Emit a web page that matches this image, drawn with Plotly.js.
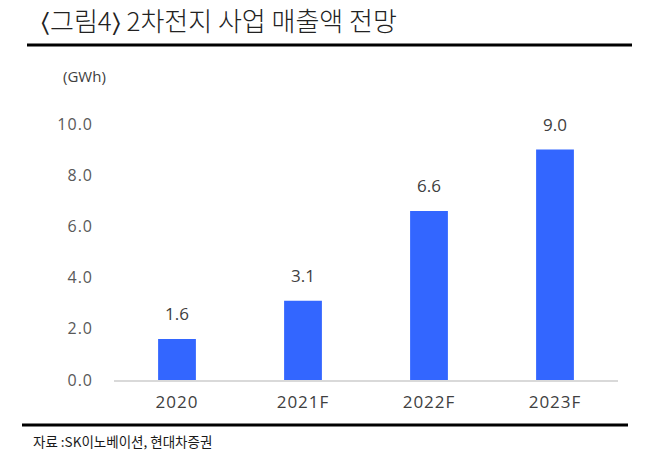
<!DOCTYPE html>
<html><head><meta charset="utf-8">
<script src="https://cdn.plot.ly/plotly-3.0.1.min.js"></script>
<style>html,body{margin:0;padding:0;background:#fff}#c{width:658px;height:467px}
.xtick text,.ytick text{letter-spacing:1px}</style>
</head><body><div id="c"></div>
<script>
const categories = ["2020", "2021F", "2022F", "2023F"];
const values = [1.6, 3.1, 6.6, 9.0];
const yTicks = [0, 2, 4, 6, 8, 10];
const yTickLabels = ["0.0", "2.0", "4.0", "6.0", "8.0", "10.0"];

const L = 114, R = 618, T = 124, B = 380;
const px = x => (x - L) / (R - L);
const py = y => (B - y) / (B - T);
const kfont = '"Noto Sans CJK KR", "Noto Sans", sans-serif';
const nfont = '"Open Sans", "Noto Sans", sans-serif';

const labelAnns = categories.map((c, i) => ({
  x: i, y: values[i], xref: 'x', yref: 'y', text: values[i].toFixed(1),
  showarrow: false, yanchor: 'bottom', yshift: 12,
  font: {size: 17, color: '#404040', family: nfont}
}));

Plotly.newPlot('c', [{
  type: 'bar', x: categories, y: values,
  marker: {color: '#3366FF'}, width: 0.3,
  hoverinfo: 'none'
}], {
  width: 658, height: 467,
  margin: {l: L, r: 658 - R, t: T, b: 467 - B},
  paper_bgcolor: '#fff', plot_bgcolor: '#fff',
  showlegend: false,
  title: {text: '<span style="font-family:DejaVu Sans">\u2329</span>그림4<span style="font-family:DejaVu Sans">\u232A</span> 2차전지 사업 매출액 전망', xref: 'container', yref: 'container',
    x: 41 / 658, xanchor: 'left', y: 1 - 22 / 467, yanchor: 'middle',
    font: {size: 26, color: '#222', family: kfont, weight: 300}},
  xaxis: {type: 'category', range: [-0.5, 3.5], showgrid: false, zeroline: false, showline: true,
    linecolor: '#d9d9d9', linewidth: 1.5, ticks: '',
    tickfont: {size: 17, color: '#404040', family: nfont}, ticklabelstandoff: 6},
  yaxis: {range: [0, 10], tickvals: yTicks, ticktext: yTickLabels, showgrid: false,
    zeroline: false, showline: false, ticks: '',
    tickfont: {size: 16, color: '#595959', family: nfont}, ticklabelstandoff: 20},
  shapes: [
    {type: 'line', xref: 'paper', yref: 'paper', x0: px(27), x1: px(632), y0: py(45), y1: py(45), line: {color: '#000', width: 3}},
    {type: 'line', xref: 'paper', yref: 'paper', x0: px(22), x1: px(628), y0: py(425), y1: py(425), line: {color: '#000', width: 3}}
  ],
  annotations: labelAnns.concat([
    {text: '(GWh)', xref: 'paper', yref: 'paper', x: px(61), y: py(76), xanchor: 'left', yanchor: 'middle', showarrow: false,
      font: {size: 15, color: '#404040', family: nfont}},
    {text: '자료 :SK이노베이션, 현대차증권', xref: 'paper', yref: 'paper', x: px(31), y: py(441), xanchor: 'left', yanchor: 'middle', showarrow: false,
      font: {size: 13.5, color: '#1a1a1a', family: kfont}}
  ])
}, {displayModeBar: false, staticPlot: true});
</script></body></html>
